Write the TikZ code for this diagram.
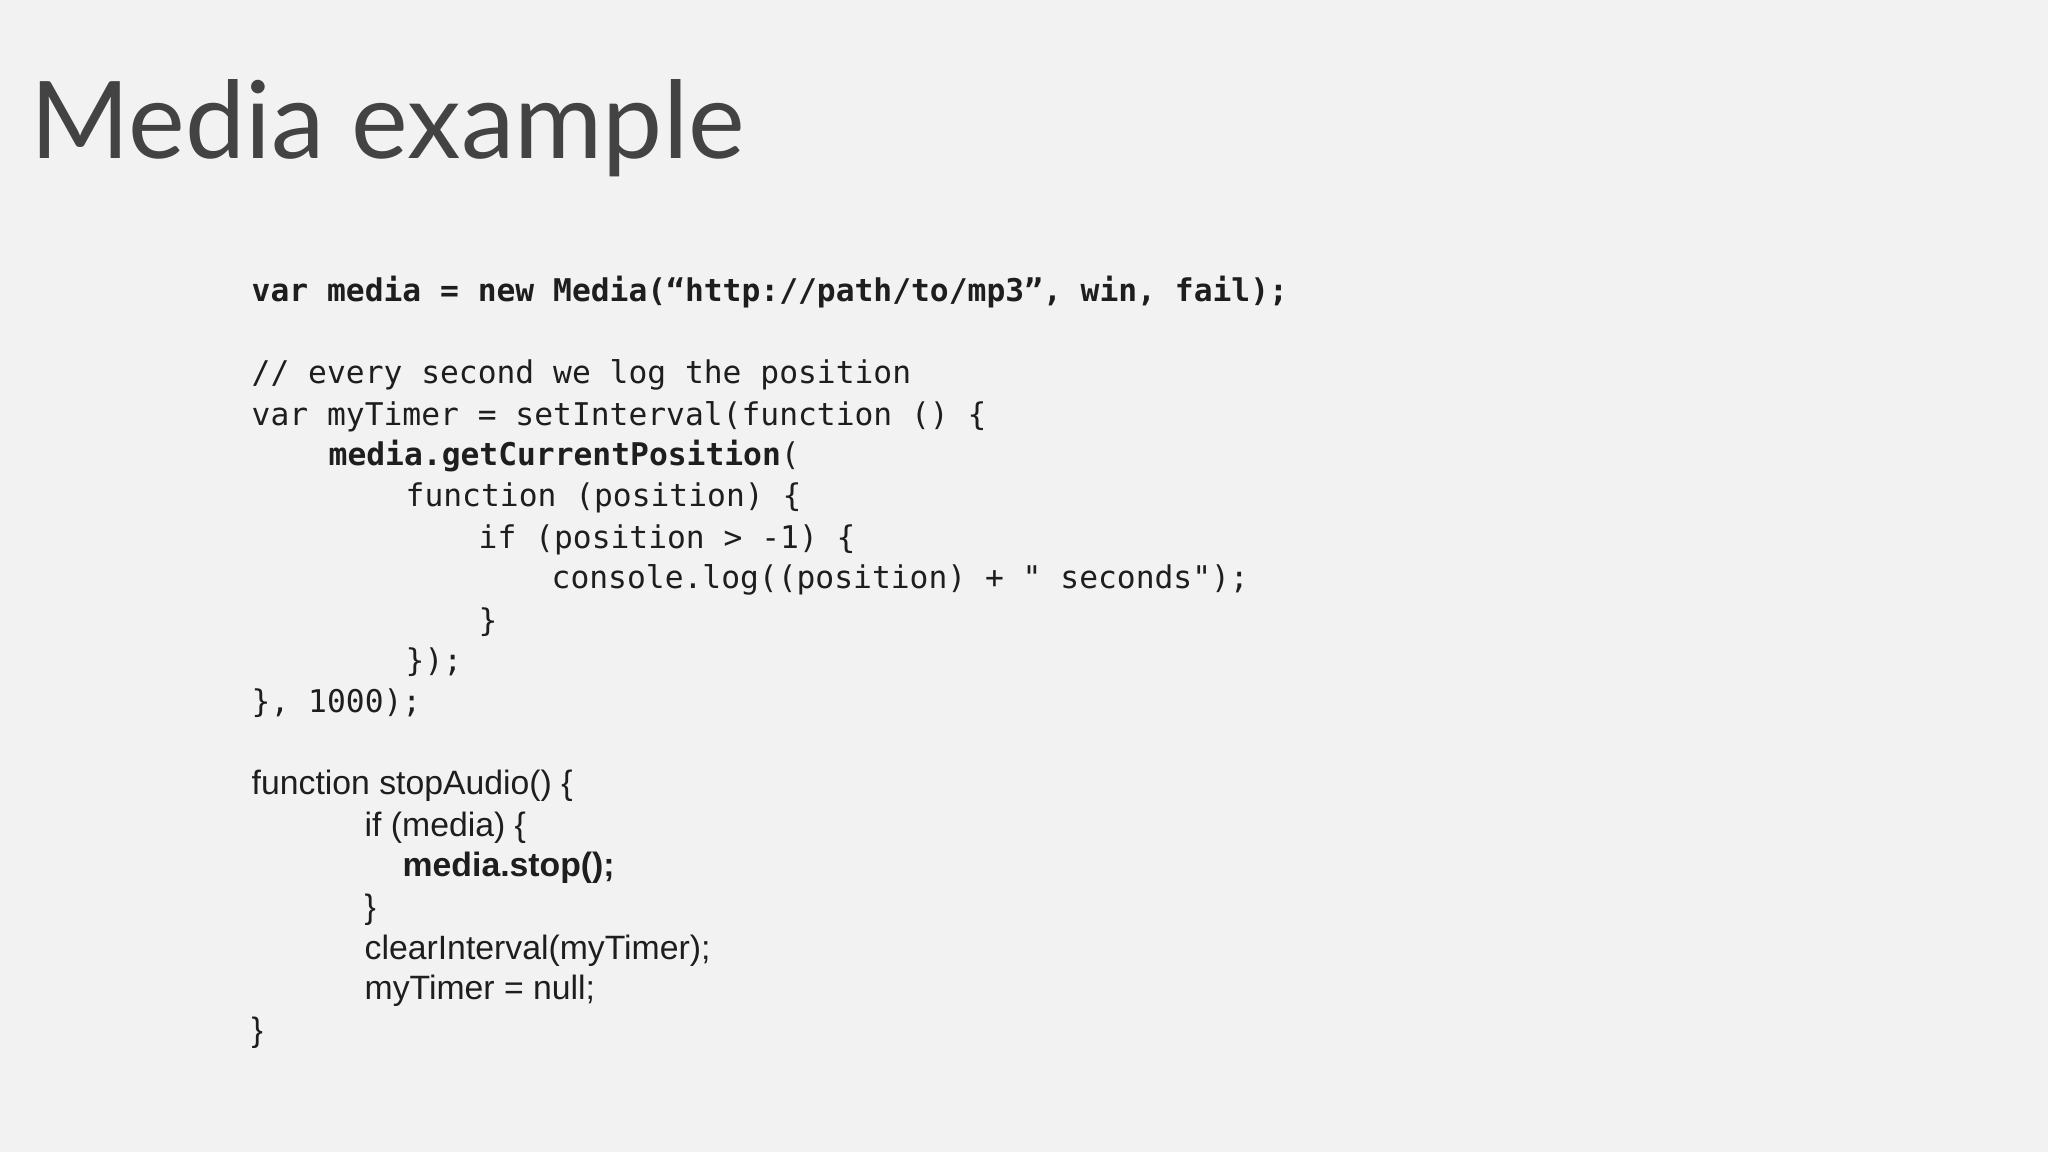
\documentclass[tikz,border=0pt]{standalone}
\usepackage{fontspec}
\setmainfont{Liberation Sans}
\newfontfamily\titlefont{Lato}
\newfontfamily\codefont{DejaVu Sans Mono}
\definecolor{bg}{HTML}{F2F2F2}
\definecolor{ink}{HTML}{1E1E1E}
\definecolor{ttl}{HTML}{434343}
\tikzset{
  code/.style={anchor=base west, inner sep=0pt, text=ink, font=\codefont\fontsize{8.9}{10}\selectfont},
  sans/.style={anchor=base west, inner sep=0pt, text=ink, font=\fontsize{9.6}{11}\selectfont},
}
\begin{document}
\begin{tikzpicture}[x=0.01cm,y=-0.01cm]
\fill[bg] (0,0) rectangle (2048,1152);
\useasboundingbox (0,0) rectangle (2048,1152);
\node[anchor=base west, inner sep=0pt, text=ttl, font=\titlefont\fontsize{30.5}{34}\selectfont] (title) at (30,159) {Media example};
\node[code] (l1) at (251,302) {\bfseries var media = new Media(“http://path/to/mp3”, win, fail);};
\node[code] (l2) at (251,384) {// every second we log the position};
\node[code] (l3) at (251,426) {var myTimer = setInterval(function () \{};
\node[code] (l4) at (328,466) {\textbf{media.getCurrentPosition}(};
\node[code] (l5) at (405,507) {function (position) \{};
\node[code] (l6) at (478,549) {if (position > -1) \{};
\node[code] (l7) at (551,589) {console.log((position) + " seconds");};
\node[code] (l8) at (478,631) {\}};
\node[code] (l9) at (405,671) {\});};
\node[code] (l10) at (251,712) {\}, 1000);};
\node[sans] (s1) at (251,794) {function stopAudio() \{};
\node[sans] (s2) at (364,836) {if (media) \{};
\node[sans] (s3) at (402,876) {\bfseries media.stop();};
\node[sans] (s4) at (364,918) {\}};
\node[sans] (s5) at (364,959) {clearInterval(myTimer);};
\node[sans] (s6) at (364,999) {myTimer = null;};
\node[sans] (s7) at (251,1041) {\}};
\end{tikzpicture}
\end{document}
